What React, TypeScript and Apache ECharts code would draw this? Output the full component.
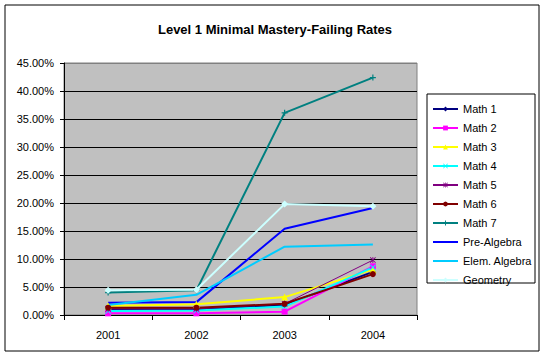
import React, { useEffect, useRef } from "react";
import * as echarts from "echarts";

const years = ["2001", "2002", "2003", "2004"];
const seriesNames = ["Math 1", "Math 2", "Math 3", "Math 4", "Math 5", "Math 6", "Math 7", "Pre-Algebra", "Elem. Algebra", "Geometry"];
const math1 = [1.0, 1.0, 1.8, 7.7];
const math2 = [0.3, 0.3, 0.6, 8.7];
const math3 = [1.6, 1.9, 3.2, 8.1];
const math4 = [0.7, 0.8, 1.5, 8.5];
const math5 = [1.1, 1.1, 2.0, 9.8];
const math6 = [1.3, 1.3, 2.0, 7.3];
const math7 = [4.0, 4.4, 36.1, 42.4];
const preAlgebra = [2.2, 2.3, 15.4, 19.1];
const elemAlgebra = [1.8, 3.6, 12.2, 12.6];
const geometry = [4.4, 4.5, 19.8, 19.4];

const FONT = "'Liberation Sans', Arial, sans-serif";
const X_SYM = "path://M0,1L1,0L5,4L9,0L10,1L6,5L10,9L9,10L5,6L1,10L0,9L4,5Z";
const PLUS_SYM = "path://M4,0H6V4H10V6H6V10H4V6H0V4H4Z";
const STAR_SYM = "path://M4.3,0H5.7V10H4.3Z M0,1L1,0L10,9L9,10Z M9,0L10,1L1,10L0,9Z";

export default function App() {
  const ref = useRef<HTMLDivElement>(null);
  useEffect(() => {
    document.body.style.margin = "0";
    const chart = echarts.init(ref.current!, undefined, { renderer: "svg" });
    const styles = [
      { data: math1, color: "#000080", symbol: "diamond", size: 6, width: 2 },
      { data: math2, color: "#FF00FF", symbol: "rect", size: 6, width: 2 },
      { data: math3, color: "#FFFF00", symbol: "triangle", size: 7, width: 2 },
      { data: math4, color: "#00FFFF", symbol: X_SYM, size: 6, width: 2 },
      { data: math5, color: "#800080", symbol: STAR_SYM, size: 6, width: 1 },
      { data: math6, color: "#800000", symbol: "circle", size: 6, width: 2 },
      { data: math7, color: "#008080", symbol: PLUS_SYM, size: 6, width: 2 },
      { data: preAlgebra, color: "#0000FF", symbol: "none", size: 0, width: 2 },
      { data: elemAlgebra, color: "#00CCFF", symbol: "none", size: 0, width: 2 },
      { data: geometry, color: "#CCFFFF", symbol: "diamond", size: 7, width: 2 },
    ];
    const gridColors = ["#000", "#000", "#000", "#000", "#000", "#000", "#000", "#000", "#000", "#808080"];
    const legendData = seriesNames.map((n, i) =>
      styles[i].symbol === "none" ? { name: n, itemStyle: { opacity: 0 } } : { name: n }
    );
    chart.setOption({
      animation: false,
      backgroundColor: "#FFFFFF",
      title: {
        text: "Level 1 Minimal Mastery-Failing Rates",
        left: 270,
        textAlign: "center",
        top: 18,
        textStyle: { fontFamily: FONT, fontSize: 13, fontWeight: "bold", color: "#000" },
      },
      grid: {
        left: 64, top: 63, right: 128, bottom: 42,
        show: true, backgroundColor: "#C0C0C0", borderColor: "#808080", borderWidth: 1,
      },
      legend: {
        orient: "vertical",
        left: 427,
        top: 98,
        itemWidth: 25,
        itemHeight: 6,
        itemGap: 7,
        data: legendData,
        textStyle: { fontFamily: FONT, fontSize: 11, color: "#000", lineHeight: 12 },
      },
      xAxis: {
        type: "category",
        data: years,
        boundaryGap: true,
        axisLine: { lineStyle: { color: "#000", width: 1 } },
        axisTick: { show: true, length: 5, lineStyle: { color: "#000" } },
        axisLabel: { fontFamily: FONT, fontSize: 11, color: "#000", margin: 14 },
      },
      yAxis: {
        type: "value",
        min: 0,
        max: 45,
        interval: 5,
        axisLine: { show: true, lineStyle: { color: "#000", width: 1 } },
        axisTick: { show: true, length: 4, lineStyle: { color: "#000" } },
        splitLine: { show: true, lineStyle: { color: gridColors, width: 1 } },
        axisLabel: {
          fontFamily: FONT, fontSize: 11, color: "#000", margin: 10,
          formatter: (v: number) => v.toFixed(2) + "%",
        },
      },
      graphic: [
        { type: "rect", shape: { x: 5, y: 5, width: 534, height: 346 }, style: { fill: "none", stroke: "#000", lineWidth: 1 }, silent: true },
        { type: "rect", shape: { x: 427, y: 94, width: 108, height: 189 }, style: { fill: "#FFFFFF", stroke: "#000", lineWidth: 1 }, silent: true, z: -1 },
      ],
      series: styles.map((s, i) => ({
        name: seriesNames[i],
        type: "line",
        data: s.data,
        symbol: s.symbol,
        symbolSize: s.size,
        showSymbol: s.symbol !== "none",
        lineStyle: { color: s.color, width: s.width },
        itemStyle: { color: s.color },
        emphasis: { disabled: true },
      })),
    });
    return () => chart.dispose();
  }, []);
  return <div ref={ref} style={{ position: "absolute", left: 0, top: 0, width: 545, height: 357 }} />;
}
